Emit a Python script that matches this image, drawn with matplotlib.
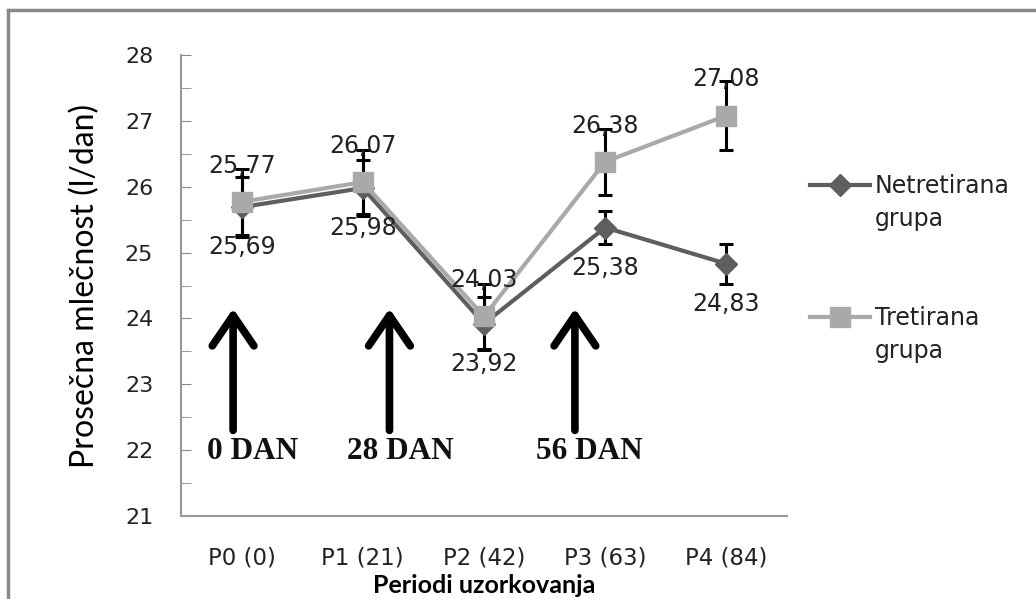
import matplotlib
matplotlib.use('Agg')
import matplotlib.pyplot as plt
from matplotlib.lines import Line2D
import numpy as np

periodi = ['P0 (0)', 'P1 (21)', 'P2 (42)', 'P3 (63)', 'P4 (84)']
netretirana = [25.69, 25.98, 23.92, 25.38, 24.83]
netretirana_err = [0.45, 0.43, 0.40, 0.25, 0.30]
tretirana = [25.77, 26.07, 24.03, 26.38, 27.08]
tretirana_err = [0.50, 0.48, 0.50, 0.50, 0.52]
dani = ['0 DAN', '28 DAN', '56 DAN']

def zarez(v):
    return ('%.2f' % v).replace('.', ',')

W, H = 1036, 599
fig = plt.figure(figsize=(W/100, H/100), dpi=100)
ax = fig.add_axes([181/W, 1-516/H, 606/W, 461/H])
x = np.arange(len(periodi))

tamna = '#5e5e5e'
svetla = '#a9a9a9'

ax.errorbar(x, netretirana, yerr=netretirana_err, fmt='none', ecolor='black',
            elinewidth=2.2, capsize=5, capthick=2.2, zorder=2)
ax.errorbar(x, tretirana, yerr=tretirana_err, fmt='none', ecolor='black',
            elinewidth=2.2, capsize=5, capthick=2.2, zorder=2)
ax.plot(x, netretirana, color=tamna, lw=3, marker='D', ms=11, zorder=3)
ax.plot(x, tretirana, color=svetla, lw=3, marker='s', ms=14, zorder=4)

for xi, v in zip(x, tretirana):
    ax.annotate(zarez(v), (xi, v), xytext=(0, 26), textcoords='offset points',
                ha='center', va='center', fontsize=17, color='#222222', zorder=5)
for xi, v in zip(x, netretirana):
    ax.annotate(zarez(v), (xi, v), xytext=(0, -29), textcoords='offset points',
                ha='center', va='center', fontsize=17, color='#222222', zorder=5)

# strelice za dane tretmana
strelice_x = [-0.07, 1.22, 2.75]
tekst_x = [0.09, 1.31, 2.87]
for sx, tx, d in zip(strelice_x, tekst_x, dani):
    ax.annotate('', xy=(sx, 24.15), xytext=(sx, 22.3),
                arrowprops=dict(arrowstyle='->, head_length=1.1, head_width=0.75',
                                lw=5.5, color='black', mutation_scale=20,
                                capstyle='round', joinstyle='round',
                                shrinkA=0, shrinkB=0))
    ax.text(tx, 21.98, d, ha='center', va='center', fontsize=22.5,
            family='Liberation Serif', weight='bold', color='#111111')

ax.set_xlim(-0.5, 4.5)
ax.set_ylim(21, 28)
ax.set_yticks(range(21, 29))
ax.set_yticks(np.arange(21.5, 28, 1), minor=True)
ax.set_xticks(x)
ax.set_xticklabels(periodi, fontsize=16.5, color='#222222')
ax.tick_params(axis='x', length=0, pad=22)
ax.tick_params(axis='y', which='both', direction='in', length=7, color='#888888',
               labelsize=16, labelcolor='#222222', pad=20)
for s in ['top', 'right']:
    ax.spines[s].set_visible(False)
for s in ['left', 'bottom']:
    ax.spines[s].set_color('#999999')
    ax.spines[s].set_linewidth(1.5)

ax.set_ylabel('Prosečna mlečnost (l/dan)', family='Lato', fontsize=23, labelpad=18)
ax.set_xlabel('Periodi uzorkovanja', family='Lato', weight='bold', fontsize=18,
              labelpad=3)

# legenda (ručno, kao u Excelu)
legenda = [('Netretirana\ngrupa', tamna, 'D', 11, 185),
           ('Tretirana\ngrupa', svetla, 's', 14, 317)]
for tekst, boja, mk, ms, yy in legenda:
    fy = 1 - yy/H
    fig.add_artist(Line2D([810/W, 870/W], [fy, fy], color=boja, lw=3))
    fig.add_artist(Line2D([840/W], [fy], color=boja, marker=mk, ms=ms, lw=0))
    fig.text(875/W, 1 - (yy-11)/H, tekst, ha='left', va='top', fontsize=17,
             color='#222222', linespacing=1.45)

# okvir slike
fig.add_artist(Line2D([8/W, 1], [1-10/H, 1-10/H], color='#8a8a8a', lw=2.5))
fig.add_artist(Line2D([8/W, 8/W], [0, 1-10/H], color='#8a8a8a', lw=2.5))

fig.savefig('out.png', dpi=100)
